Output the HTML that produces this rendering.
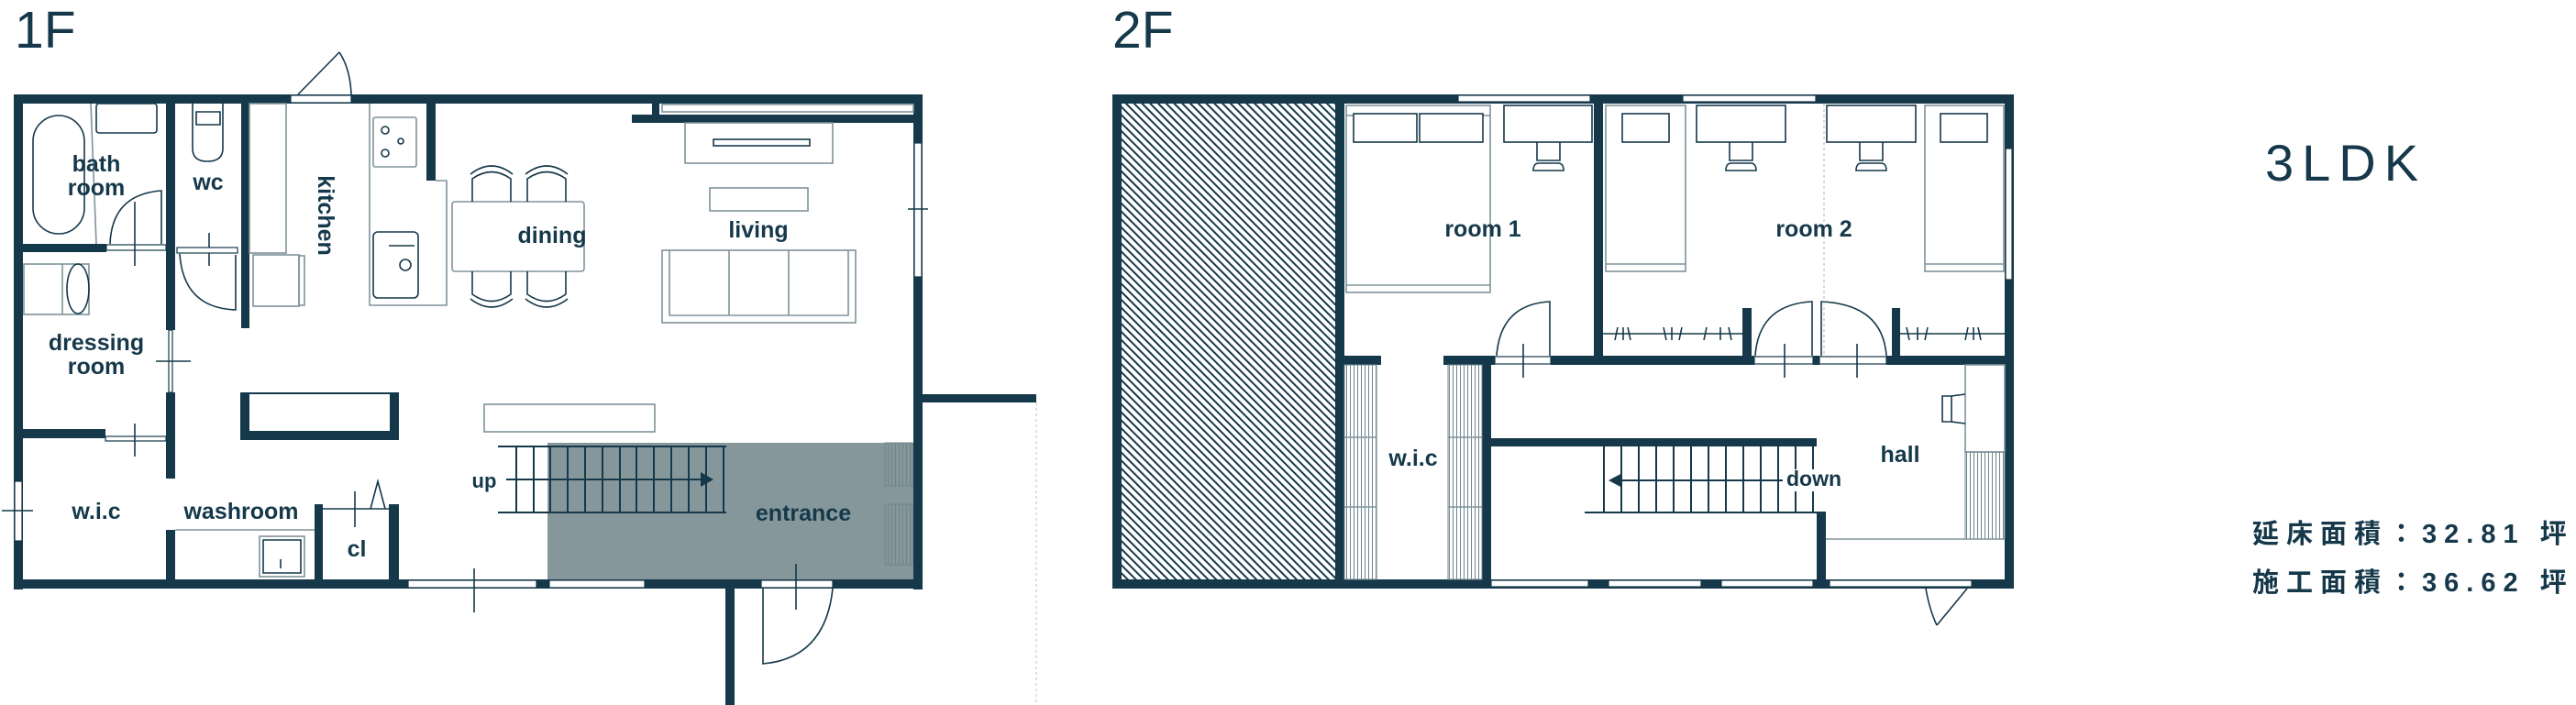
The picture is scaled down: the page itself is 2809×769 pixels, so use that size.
<!DOCTYPE html>
<html><head><meta charset="utf-8"><style>
html,body{margin:0;padding:0;background:#fff;}
svg{display:block;}
.t{font-family:"Liberation Sans",sans-serif;font-weight:bold;fill:#15384a;font-size:25px;text-anchor:middle;}
.ln{stroke:#15384a;stroke-width:1.6;fill:none;}
.lg{stroke:#7f939a;stroke-width:1.6;fill:none;}
.w{fill:#15384a;}
.win{fill:#fff;stroke:#15384a;stroke-width:1.2;}
</style></head><body>
<svg width="2809" height="769" viewBox="0 0 2809 769" xmlns="http://www.w3.org/2000/svg">
<defs>
<pattern id="h" patternUnits="userSpaceOnUse" width="6.2" height="6.2" patternTransform="rotate(-45)">
<rect x="0" y="0" width="2" height="6.2" fill="#15384a"/>
</pattern>
<pattern id="vs" patternUnits="userSpaceOnUse" width="4" height="10">
<rect x="0" y="0" width="1" height="10" fill="#6f858d"/>
</pattern>
</defs>

<!-- ============ 1F ============ -->
<text x="16" y="52" style="font-family:'Liberation Sans',sans-serif;font-size:57px;fill:#15384a;">1F</text>

<rect x="597" y="483" width="400" height="150" fill="#86979c"/>
<rect class="w" x="15" y="103" width="991" height="10"/>
<rect class="w" x="15" y="103" width="10" height="540"/>
<rect class="w" x="996" y="103" width="10" height="540"/>
<rect class="w" x="15" y="632" width="991" height="10"/>
<rect class="win" x="317" y="104" width="66" height="8"/>
<path class="ln" d="M325 103 L370 57 M370 57 Q382 75 383 103" />
<rect class="win" x="997" y="156" width="8" height="146"/>
<path class="ln" d="M990 228 H1012"/>
<rect class="win" x="16" y="525" width="8" height="65"/>
<path class="ln" d="M2 557 H36"/>
<rect class="win" x="445" y="633" width="140" height="8"/>
<rect class="win" x="599" y="633" width="104" height="8"/>
<rect class="win" x="830" y="633" width="78" height="8"/>
<path class="ln" d="M517 620 V668 M868 615 V665"/>
<path class="ln" d="M832 642 V724 Q900 718 908 642"/>
<rect class="w" x="791" y="642" width="10" height="127"/>
<rect class="w" x="1006" y="430" width="124" height="9"/>
<path d="M1130 439 V769" stroke="#b9c4c8" stroke-width="1" stroke-dasharray="3,3"/>
<rect class="w" x="689" y="125" width="310" height="9"/>
<rect class="w" x="711" y="113" width="8" height="12"/>
<rect class="lg" x="722" y="114" width="274" height="8"/>

<rect class="w" x="25" y="266" width="91" height="9"/>
<rect class="win" x="116" y="267" width="65" height="6"/>
<rect class="w" x="181" y="113" width="10" height="247"/>
<rect class="win" x="184" y="360" width="4" height="68"/>
<path class="ln" d="M170 394 H208"/>
<rect class="w" x="181" y="428" width="10" height="94"/>
<rect class="w" x="25" y="468" width="90" height="10"/>
<rect class="win" x="115" y="476" width="66" height="5"/>
<path class="ln" d="M147 462 V498 M147 220 V290 M228 254 V290"/>
<rect class="win" x="193" y="270" width="66" height="6"/>
<rect class="w" x="263" y="113" width="9" height="245"/>
<rect class="w" x="181" y="578" width="10" height="64"/>
<path class="lg" d="M191 578 H343"/>
<rect class="w" x="343" y="550" width="9" height="92"/>
<rect class="w" x="424" y="550" width="11" height="92"/>
<path class="ln" d="M352 555 H424 M387 536 V575 M404 555 L412 525 L420 555"/>
<path class="w" d="M262 428 H435 V480 H262 Z M272 430 V470 H425 V430 Z" fill-rule="evenodd"/>
<rect class="w" x="465" y="113" width="10" height="84"/>

<rect class="ln" x="36" y="126" width="56" height="129" rx="28"/>
<rect class="ln" x="105" y="113" width="66" height="32" rx="3"/>
<path class="lg" d="M99 113 L105 266"/>
<path class="ln" d="M120 266 Q122 212 176 208 V266"/>
<path class="ln" d="M210 113 V162 Q210 176 226 176 Q243 176 243 162 V113 M214 122 H240 V136 H214 Z"/>
<path class="ln" d="M196 277 Q200 336 257 338 V278"/>
<rect class="lg" x="272" y="113" width="40" height="163"/>
<rect class="lg" x="276" y="278" width="50" height="56"/>
<rect class="lg" x="326" y="279" width="6" height="54"/>
<path class="lg" d="M403 113 V333 H487 V197 H475"/>
<rect class="lg" x="407" y="128" width="47" height="54" rx="2"/>
<circle class="ln" cx="420" cy="142" r="4"/><circle class="ln" cx="420" cy="167" r="4"/><circle class="ln" cx="437" cy="154" r="3"/>
<rect class="ln" x="407" y="253" width="49" height="72" rx="5"/>
<circle class="ln" cx="442" cy="289" r="6"/>
<path class="ln" d="M424 268 H452"/>
<rect class="lg" x="26" y="288" width="71" height="55"/>
<ellipse class="ln" cx="85" cy="315" rx="12" ry="27"/>
<path class="lg" d="M68 288 V343"/>
<rect class="lg" x="283" y="585" width="49" height="44"/>
<path class="ln" d="M287 589 H328 V625 H287 Z M306 610 V620"/>
<rect class="lg" x="493" y="220" width="144" height="76" rx="3"/>
<g class="ln">
<path d="M515 220 V195 Q536 180 557 195 V220"/><path d="M513 190 Q536 172 559 190"/>
<path d="M575 220 V195 Q596 180 617 195 V220"/><path d="M573 190 Q596 172 619 190"/>
<path d="M515 296 V321 Q536 336 557 321 V296"/><path d="M513 326 Q536 344 559 326"/>
<path d="M575 296 V321 Q596 336 617 321 V296"/><path d="M573 326 Q596 344 619 326"/>
</g>
<rect class="lg" x="747" y="134" width="161" height="44"/>
<rect class="ln" x="778" y="152" width="105" height="7"/>
<rect class="lg" x="774" y="205" width="107" height="25"/>
<rect class="lg" x="722" y="273" width="211" height="79"/>
<path class="lg" d="M730 273 V344 H925 V273 M795 273 V344 M860 273 V344"/>
<rect class="lg" x="528" y="441" width="186" height="30"/>
<g stroke="#15384a" stroke-width="2">
<path d="M543 487 H792 M543 559 H792"/>
<path d="M563 487V559 M582 487V559 M600 487V559 M619 487V559 M638 487V559 M657 487V559 M676 487V559 M694 487V559 M713 487V559 M732 487V559 M751 487V559 M770 487V559 M789 487V559"/>
<path d="M552 523 H772"/>
</g>
<path d="M764 515 L778 523 L764 531 Z" fill="#15384a"/>
<rect x="965" y="483" width="30" height="47" fill="url(#vs)" stroke="#6f858d"/>
<rect x="965" y="550" width="30" height="66" fill="url(#vs)" stroke="#6f858d"/>

<text class="t" x="105" y="187">bath</text>
<text class="t" x="105" y="213">room</text>
<text class="t" x="227" y="207">wc</text>
<text class="t" x="347" y="235" transform="rotate(90 347 235)">kitchen</text>
<text class="t" x="602" y="265">dining</text>
<text class="t" x="827" y="259">living</text>
<text class="t" x="105" y="382">dressing</text>
<text class="t" x="105" y="408">room</text>
<text class="t" x="105" y="566">w.i.c</text>
<text class="t" x="263" y="566">washroom</text>
<text class="t" x="389" y="607">cl</text>
<text class="t" x="528" y="532" style="font-size:22px">up</text>
<text class="t" x="876" y="568">entrance</text>

<!-- ============ 2F ============ -->
<text x="1213" y="52" style="font-family:'Liberation Sans',sans-serif;font-size:57px;fill:#15384a;">2F</text>
<rect x="1223" y="113" width="233" height="519" fill="url(#h)"/>
<rect class="w" x="1213" y="103" width="983" height="10"/>
<rect class="w" x="1213" y="103" width="10" height="539"/>
<rect class="w" x="2186" y="103" width="10" height="539"/>
<rect class="w" x="1213" y="632" width="983" height="10"/>
<rect class="w" x="1456" y="113" width="10" height="520"/>
<rect class="win" x="1590" y="104" width="144" height="7"/>
<rect class="win" x="1835" y="104" width="145" height="7"/>
<rect class="win" x="2187" y="162" width="7" height="143"/>
<rect class="w" x="1738" y="113" width="10" height="280"/>
<rect class="w" x="1466" y="388" width="40" height="10"/>
<rect class="w" x="1574" y="388" width="56" height="10"/>
<rect class="win" x="1630" y="389" width="61" height="8"/>
<rect class="w" x="1691" y="388" width="222" height="10"/>
<rect class="win" x="1913" y="389" width="64" height="8"/>
<rect class="w" x="1977" y="388" width="7" height="10"/>
<rect class="win" x="1984" y="389" width="73" height="8"/>
<rect class="w" x="2057" y="388" width="130" height="10"/>
<rect class="w" x="1900" y="336" width="10" height="52"/>
<rect class="w" x="2063" y="336" width="9" height="52"/>
<rect class="w" x="1616" y="398" width="10" height="236"/>
<rect class="w" x="1626" y="478" width="355" height="9"/>
<rect class="w" x="1981" y="558" width="10" height="76"/>
<path class="ln" d="M1632 388 Q1636 332 1690 329 V388"/>
<path class="ln" d="M1914 388 Q1918 332 1976 329 V388"/>
<path class="ln" d="M2057 388 Q2053 332 1986 329 V388"/>
<path class="ln" d="M1661 375 V412 M1946 375 V412 M2025 375 V412"/>
<path class="ln" d="M1747 364 H1900 M2072 364 H2186"/>
<path class="ln" d="M1761 371 L1764 357 M1770 371 V357 M1778 371 L1775 357 M1817 371 L1814 357 M1823 371 V357 M1831 371 L1834 357 M1858 371 L1861 357 M1876 371 V357 M1888 371 L1885 357 M2082 371 L2079 357 M2091 371 V357 M2099 371 L2102 357 M2143 371 L2146 357 M2152 371 V357 M2160 371 L2157 357"/>
<rect class="win" x="1626" y="633" width="106" height="7"/>
<rect class="win" x="1754" y="633" width="101" height="7"/>
<rect class="win" x="1877" y="633" width="100" height="7"/>
<rect class="win" x="1995" y="633" width="155" height="7"/>
<path class="ln" d="M2145 642 L2112 682 M2100 642 Q2104 665 2112 682"/>
<rect class="lg" x="1468" y="115" width="157" height="204"/>
<path class="lg" d="M1468 311 H1625 M1468 126 H1476 M1617 126 H1625"/>
<rect class="ln" x="1476" y="124" width="69" height="31"/><rect class="ln" x="1548" y="124" width="69" height="31"/>
<rect class="ln" x="1640" y="115" width="96" height="40"/>
<path class="ln" d="M1676 155 V175 H1701 V155 M1672 186 Q1672 178 1678 178 H1699 Q1705 178 1705 186 Z"/>
<rect class="lg" x="1751" y="115" width="87" height="181"/>
<path class="lg" d="M1751 288 H1838"/>
<rect class="ln" x="1769" y="124" width="51" height="31"/>
<rect class="ln" x="1850" y="115" width="97" height="40"/>
<path class="ln" d="M1886 155 V175 H1911 V155 M1882 186 Q1882 178 1888 178 H1909 Q1915 178 1915 186 Z"/>
<path d="M1989 113 V388" stroke="#aab5b9" stroke-width="1" stroke-dasharray="3,3"/>
<rect class="ln" x="1992" y="115" width="97" height="40"/>
<path class="ln" d="M2028 155 V175 H2053 V155 M2024 186 Q2024 178 2030 178 H2051 Q2057 178 2057 186 Z"/>
<rect class="lg" x="2099" y="115" width="86" height="181"/>
<path class="lg" d="M2099 288 H2185"/>
<rect class="ln" x="2116" y="124" width="51" height="31"/>
<rect x="1466" y="398" width="35" height="234" fill="url(#vs)" stroke="#6f858d"/>
<rect x="1579" y="398" width="37" height="234" fill="url(#vs)" stroke="#6f858d"/>
<path class="lg" d="M1466 477 H1501 M1466 553 H1501 M1579 477 H1616 M1579 553 H1616"/>
<rect class="lg" x="2143" y="398" width="43" height="95"/>
<rect x="2143" y="493" width="43" height="95" fill="url(#vs)" stroke="#6f858d"/>
<path class="lg" d="M1991 588 H2186"/>
<path class="ln" d="M2143 430 L2128 432 V460 L2143 462 M2128 432 H2118 V460 H2128"/>
<g stroke="#15384a" stroke-width="2">
<path d="M1728 559 H1981"/>
<path d="M1749 487V559 M1768 487V559 M1787 487V559 M1806 487V559 M1825 487V559 M1844 487V559 M1863 487V559 M1882 487V559 M1901 487V559 M1920 487V559 M1939 487V559 M1958 487V559 M1977 487V559"/>
<path d="M1762 524 H1945"/>
</g>
<rect x="1944" y="512" width="68" height="24" fill="#fff"/>
<path d="M1754 524 L1769 516 L1769 532 Z" fill="#15384a"/>

<text class="t" x="1617" y="258">room 1</text>
<text class="t" x="1978" y="258">room 2</text>
<text class="t" x="1541" y="508">w.i.c</text>
<text class="t" x="2072" y="504">hall</text>
<text class="t" x="1978" y="530" style="font-size:23px">down</text>

<text x="2470" y="197" style="font-family:'Liberation Sans',sans-serif;font-size:56px;fill:#15384a;letter-spacing:9px;">3LDK</text>
<text x="2456" y="592" style="font-family:'Liberation Sans','Noto Sans CJK JP',sans-serif;font-weight:bold;font-size:29px;fill:#15384a;letter-spacing:8px;">延床面積：32.81 坪</text>
<text x="2456" y="645" style="font-family:'Liberation Sans','Noto Sans CJK JP',sans-serif;font-weight:bold;font-size:29px;fill:#15384a;letter-spacing:8px;">施工面積：36.62 坪</text>
</svg>
</body></html>
